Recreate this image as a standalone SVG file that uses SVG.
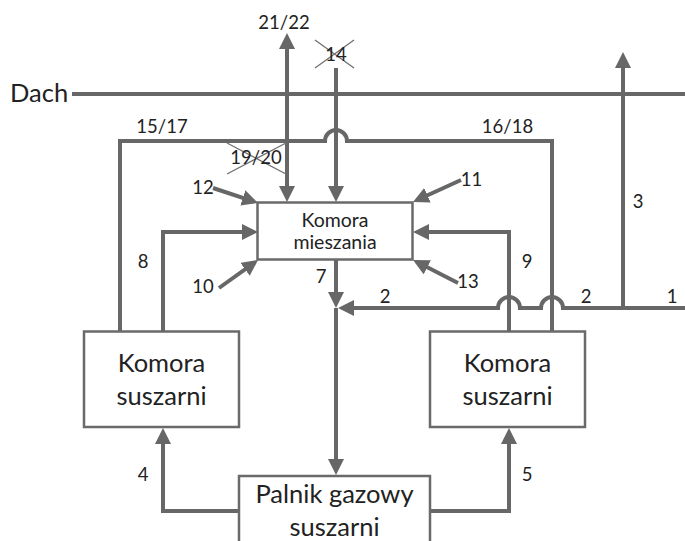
<svg xmlns="http://www.w3.org/2000/svg" width="685" height="541" viewBox="0 0 685 541">
<style>
.ln{fill:none;stroke:#676767;stroke-width:4;stroke-linejoin:miter}
.arr{marker-end:url(#ah)}
.box{fill:#fff;stroke:#6a6a6a;stroke-width:2.5}
.x{stroke:#707070;stroke-width:1.3;fill:none}
text{font-family:Lato,"Liberation Sans",sans-serif;fill:#222}
.lb{font-size:18.5px;text-anchor:middle}
.bt{font-size:25.5px;text-anchor:middle}
.mt{font-size:19.5px;text-anchor:middle}
</style>
<defs>
<marker id="ah" markerUnits="userSpaceOnUse" markerWidth="18" markerHeight="18" refX="12" refY="8" orient="auto-start-reverse">
<path d="M0,0 L16,8 L0,16 z" fill="#676767"/>
</marker>
</defs>
<rect width="685" height="541" fill="#fff"/>
<g id="connectors">
<path class="ln" d="M72,94 H685"/>
<path class="ln" d="M287,198 V37" marker-start="url(#ah)" marker-end="url(#ah)"/>
<path class="ln arr" d="M336,68 V198"/>
<path class="ln" d="M120,331 V141 H325 A11,11 0 0 1 347,141 H552 V331"/>
<path class="ln arr" d="M213,188 L254.2,201.7"/>
<path class="ln arr" d="M219,288 L254.8,262.3"/>
<path class="ln arr" d="M461,180 L416.6,200.3"/>
<path class="ln arr" d="M458,283 L416.6,261.8"/>
<path class="ln arr" d="M163,331 V232 H254"/>
<path class="ln arr" d="M509,331 V232 H417"/>
<path class="ln arr" d="M336,260 V304"/>
<path class="ln arr" d="M685,308 H563 A11,11 0 0 0 541,308 H520 A11,11 0 0 0 498,308 H342"/>
<path class="ln arr" d="M623,308 V56"/>
<path class="ln arr" d="M336,308 V471"/>
<path class="ln arr" d="M239,511 H163 V432"/>
<path class="ln arr" d="M430,511 H509 V432"/>
</g>
<g id="crosses">
<path class="x" d="M315,40 L354,68 M315,68 L354,40"/>
<path class="x" d="M227,143 L286,174 M227,174 L286,143"/>
</g>
<g id="komora-mieszania">
<rect class="box" x="257.5" y="202.5" width="155" height="57"/>
<text class="mt" x="335" y="227">Komora</text>
<text class="mt" x="335" y="249">mieszania</text>
</g>
<g id="komora-suszarni-left">
<rect class="box" x="84" y="331.5" width="155" height="95.5"/>
<text class="bt" x="161.5" y="372">Komora</text>
<text class="bt" x="161.5" y="405">suszarni</text>
</g>
<g id="komora-suszarni-right">
<rect class="box" x="430" y="331.5" width="155" height="95.5"/>
<text class="bt" x="507.5" y="372">Komora</text>
<text class="bt" x="507.5" y="405">suszarni</text>
</g>
<g id="palnik">
<rect class="box" x="239" y="476" width="191" height="90"/>
<text class="bt" x="334.5" y="503">Palnik gazowy</text>
<text class="bt" x="334.5" y="536">suszarni</text>
</g>
<g id="dach">
<text x="10" y="102" style="font-size:25.5px">Dach</text>
</g>
<g id="labels">
<text class="lb" x="284" y="29">21/22</text>
<text class="lb" x="336" y="61">14</text>
<text class="lb" x="162" y="133">15/17</text>
<text class="lb" x="507.5" y="133">16/18</text>
<text class="lb" x="256" y="164">19/20</text>
<text class="lb" x="203" y="194">12</text>
<text class="lb" x="471.5" y="186">11</text>
<text class="lb" x="203" y="293">10</text>
<text class="lb" x="468" y="288">13</text>
<text class="lb" x="143" y="268">8</text>
<text class="lb" x="527" y="268">9</text>
<text class="lb" x="321" y="283">7</text>
<text class="lb" x="385" y="303">2</text>
<text class="lb" x="586" y="303">2</text>
<text class="lb" x="672" y="303">1</text>
<text class="lb" x="638" y="208">3</text>
<text class="lb" x="143" y="481">4</text>
<text class="lb" x="527" y="481">5</text>
</g>
</svg>
